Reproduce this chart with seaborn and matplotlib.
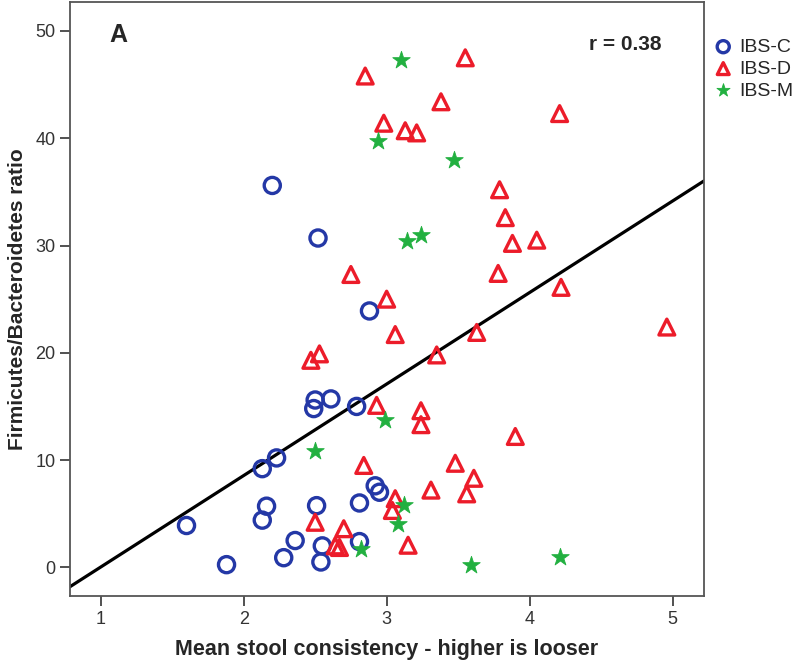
import matplotlib
matplotlib.use('Agg')
import matplotlib.pyplot as plt
import seaborn as sns
import numpy as np
import pandas as pd

# 数据
ibs_c_x = [2.20, 2.52, 2.88, 2.50, 2.49, 2.61, 2.79, 2.23, 2.13, 2.92, 2.95,
           2.16, 2.13, 2.51, 2.81, 1.60, 2.36, 2.55, 2.81, 2.28, 2.54, 1.88]
ibs_c_y = [35.6, 30.7, 23.9, 15.6, 14.8, 15.7, 15.0, 10.2, 9.2, 7.6, 7.0,
           5.7, 4.4, 5.75, 6.0, 3.9, 2.5, 2.0, 2.4, 0.9, 0.5, 0.25]

ibs_d_x = [3.55, 2.85, 3.38, 4.21, 2.98, 3.13, 3.21, 3.79, 3.83, 3.88, 4.05,
           2.75, 3.78, 4.22, 3.00, 3.06, 3.63, 2.47, 2.53, 3.35, 4.96, 3.90,
           2.93, 3.24, 3.24, 2.84, 3.48, 3.61, 3.31, 3.56, 3.06, 3.04, 2.50,
           2.70, 2.64, 2.67, 3.15]
ibs_d_y = [47.5, 45.8, 43.4, 42.3, 41.4, 40.7, 40.5, 35.2, 32.6, 30.2, 30.5,
           27.3, 27.4, 26.1, 25.0, 21.7, 21.9, 19.3, 19.9, 19.8, 22.4, 12.2,
           15.1, 14.6, 13.3, 9.5, 9.7, 8.3, 7.2, 6.85, 6.4, 5.3, 4.2,
           3.6, 2.0, 1.85, 2.06]

ibs_m_x = [3.10, 2.94, 3.47, 3.14, 3.24, 2.50, 2.99, 3.12, 3.08, 2.82, 3.59, 4.21]
ibs_m_y = [47.3, 39.7, 38.0, 30.4, 31.0, 10.8, 13.7, 5.8, 4.0, 1.7, 0.2, 1.0]

groups = ['IBS-C', 'IBS-D', 'IBS-M']
r_text = 'r = 0.38'

df = pd.DataFrame({
    'x': ibs_c_x + ibs_d_x + ibs_m_x,
    'y': ibs_c_y + ibs_d_y + ibs_m_y,
    'group': ['IBS-C'] * len(ibs_c_x) + ['IBS-D'] * len(ibs_d_x) + ['IBS-M'] * len(ibs_m_x),
})

sns.set_style('white')
plt.rcParams['font.family'] = ['Liberation Sans', 'DejaVu Sans']

fig = plt.figure(figsize=(8, 6.7), dpi=100)
ax = fig.add_axes([0.0875, 0.110, 0.7925, 0.887])

colors = {'IBS-C': '#2438a6', 'IBS-D': '#ec1c2a', 'IBS-M': '#22b040'}
styles = {'IBS-C': dict(marker='o', s=135, facecolors='none', edgecolors=colors['IBS-C'], linewidths=2.4),
          'IBS-D': dict(marker='^', s=130, facecolors='none', edgecolors=colors['IBS-D'], linewidths=2.4),
          'IBS-M': dict(marker='*', s=175, color=colors['IBS-M'], edgecolors=colors['IBS-M'], linewidths=0.6)}

for g in groups:
    sub = df[df['group'] == g]
    sns.scatterplot(data=sub, x='x', y='y', ax=ax, label=g, zorder=3, **styles[g])

ax.set_xlim(0.785, 5.22)
ax.set_ylim(-2.7, 52.7)

# 回归线
slope, intercept = np.polyfit(df['x'], df['y'], 1)
xs = np.array(ax.get_xlim())
ax.plot(xs, intercept + slope * xs, color='black', lw=2.3, zorder=2)

ax.set_xticks([1, 2, 3, 4, 5])
ax.set_yticks([0, 10, 20, 30, 40, 50])
ax.tick_params(axis='both', direction='out', length=7, width=1.2, color='#333333',
               labelsize=13, labelcolor='#333333', bottom=True, left=True)
for sp in ax.spines.values():
    sp.set_color('#555555')
    sp.set_linewidth(1.3)

ax.set_xlabel('Mean stool consistency - higher is looser', fontsize=15.5, fontweight='bold', labelpad=8)
ax.set_ylabel('Firmicutes/Bacteroidetes ratio', fontsize=15, fontweight='bold', labelpad=6)

ax.text(0.076, 0.944, 'A', transform=ax.transAxes, fontsize=18, fontweight='bold',
        ha='center', va='center')
ax.text(0.876, 0.928, r_text, transform=ax.transAxes, fontsize=15, fontweight='bold',
        ha='center', va='center')

leg = ax.legend(loc='upper left', bbox_to_anchor=(0.8925, 0.943), bbox_transform=fig.transFigure,
                frameon=False, fontsize=14, handlelength=0.95, handletextpad=0.35,
                borderpad=0, borderaxespad=0, labelspacing=0.22, markerscale=0.75)

plt.savefig('out.png', dpi=100)
plt.close()
